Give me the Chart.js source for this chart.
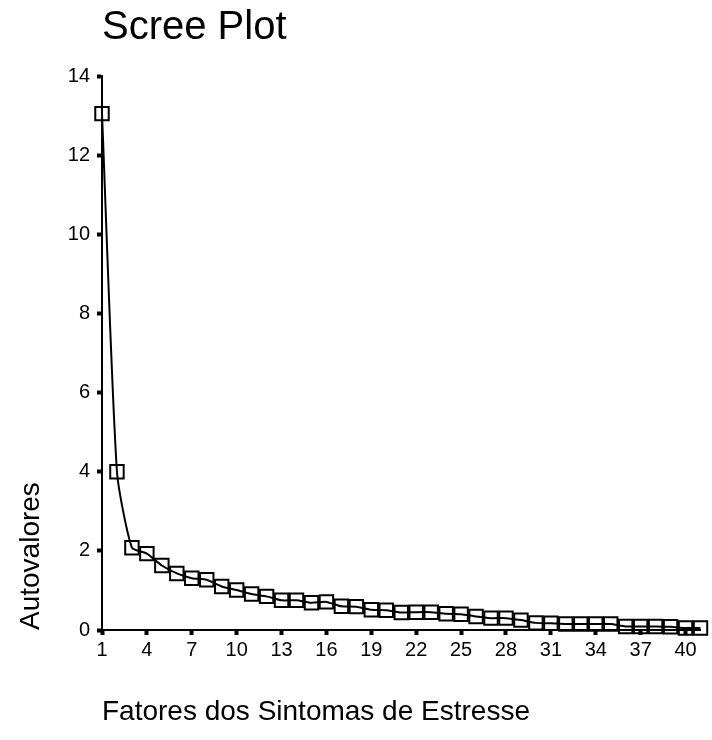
<!DOCTYPE html>
<html>
<head>
<meta charset="utf-8">
<script src="https://cdn.jsdelivr.net/npm/chart.js@4.4.0/dist/chart.umd.min.js"></script>
<style>
  html, body { margin: 0; padding: 0; background: #fff; }
  #wrap { width: 712px; height: 740px; }
</style>
</head>
<body>
<div id="wrap"><canvas id="myChart"></canvas></div>
<script>
// Fatores (componentes) 1..41
const factors = [1, 2, 3, 4, 5, 6, 7, 8, 9, 10, 11, 12, 13, 14, 15, 16, 17, 18, 19, 20,
                 21, 22, 23, 24, 25, 26, 27, 28, 29, 30, 31, 32, 33, 34, 35, 36, 37, 38, 39, 40, 41];
// Autovalores
const eigenvalues = [13.05, 4.0, 2.08, 1.93, 1.63, 1.43, 1.31, 1.27, 1.10, 1.01,
                     0.91, 0.85, 0.75, 0.75, 0.69, 0.71, 0.60, 0.59, 0.51, 0.50,
                     0.44, 0.45, 0.45, 0.41, 0.40, 0.34, 0.30, 0.30, 0.25, 0.18,
                     0.17, 0.15, 0.15, 0.15, 0.15, 0.09, 0.09, 0.09, 0.08, 0.05, 0.05];
const xTicks = [1, 4, 7, 10, 13, 16, 19, 22, 25, 28, 31, 34, 37, 40];
const yTicks = [0, 2, 4, 6, 8, 10, 12, 14];

const FONT = 'Liberation Sans, Arial, sans-serif';

var ctx = document.getElementById('myChart');
var myChart = new Chart(ctx, {
    type: 'line',
    data: {
        datasets: [{
            label: 'Autovalores',
            data: factors.map((f, i) => ({ x: f, y: eigenvalues[i] })),
            borderColor: '#000',
            borderWidth: 2,
            backgroundColor: 'rgba(0,0,0,0)',
            pointStyle: 'rect',
            pointRadius: 9.5,
            pointBorderWidth: 2,
            pointBorderColor: '#000',
            pointBackgroundColor: 'rgba(0,0,0,0)',
            tension: 0.2,
            clip: false
        }]
    },
    options: {
        responsive: true,
        maintainAspectRatio: false,
        animation: false,
        layout: { padding: { left: 0, right: 8, top: 0, bottom: 0 } },
        plugins: {
            legend: { display: false },
            tooltip: { enabled: false },
            title: {
                display: true,
                text: 'Scree Plot',
                align: 'start',
                fullSize: false,
                color: '#000',
                font: { family: FONT, size: 40, weight: 'normal' },
                padding: { top: 4, bottom: 24 }
            }
        },
        scales: {
            x: {
                type: 'linear',
                min: 1,
                max: 41,
                afterBuildTicks: axis => { axis.ticks = xTicks.map(v => ({ value: v })); },
                afterFit: axis => { axis.height = 110; },
                border: { display: true, color: '#000', width: 2 },
                grid: { drawOnChartArea: false, drawTicks: true, tickLength: 5, tickWidth: 4, tickColor: '#000' },
                ticks: { color: '#000', font: { family: FONT, size: 20 }, padding: 3, maxRotation: 0, autoSkip: false },
                title: {
                    display: true,
                    text: 'Fatores dos Sintomas de Estresse',
                    align: 'start',
                    color: '#000',
                    font: { family: FONT, size: 28 },
                    padding: { top: 0, bottom: 11 }
                }
            },
            y: {
                min: 0,
                max: 14,
                afterBuildTicks: axis => { axis.ticks = yTicks.map(v => ({ value: v })); },
                afterFit: axis => { axis.width = 102; },
                border: { display: true, color: '#000', width: 2 },
                grid: { drawOnChartArea: false, drawTicks: true, tickLength: 5, tickWidth: 4, tickColor: '#000' },
                ticks: { color: '#000', font: { family: FONT, size: 20 }, padding: 7 },
                title: {
                    display: true,
                    text: 'Autovalores',
                    align: 'start',
                    color: '#000',
                    font: { family: FONT, size: 28 },
                    padding: { top: 14, bottom: 0 }
                }
            }
        }
    }
});
</script>
</body>
</html>
